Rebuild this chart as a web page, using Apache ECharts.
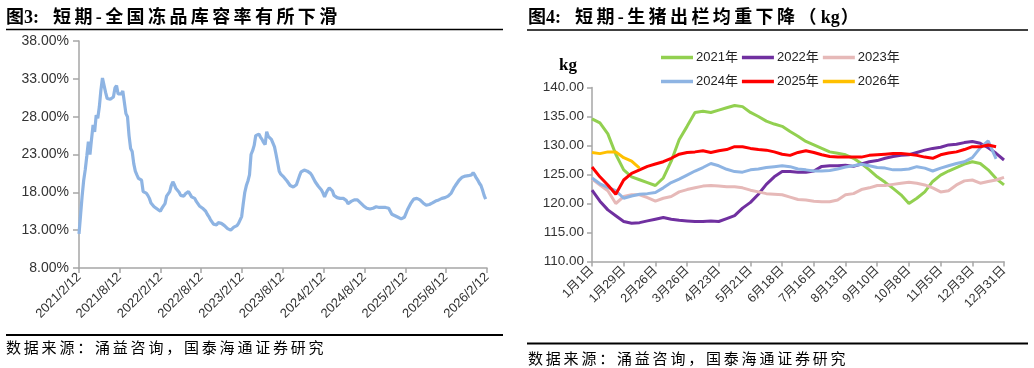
<!DOCTYPE html>
<html>
<head>
<meta charset="utf-8">
<script src="https://cdn.jsdelivr.net/npm/echarts@6/dist/echarts.min.js"></script>
<style>
html,body{margin:0;padding:0;background:#fff;}
#wrap{position:relative;width:1034px;height:368px;overflow:hidden;}
#chart{position:absolute;left:0;top:0;width:1034px;height:368px;}
.t{position:absolute;white-space:nowrap;font-family:"Liberation Serif","Noto Sans CJK SC";font-weight:bold;font-size:18px;line-height:20px;color:#000;}
.t .c{letter-spacing:3.4px;margin-left:14px;}
.t .k{letter-spacing:0;margin:0 1px;}
.s{position:absolute;white-space:nowrap;font-family:"Noto Sans CJK SC";font-size:15px;line-height:16px;letter-spacing:2.8px;color:#000;}
</style>
</head>
<body>
<div id="wrap">
<div id="chart"></div>
<div class="t" style="left:6px;top:7px;">图3:<span class="c">短期-全国冻品库容率有所下滑</span></div>
<div class="t" style="left:528px;top:7px;">图4:<span class="c">短期-生猪出栏均重下降（<span class="k">kg</span>）</span></div>
<div class="s" style="left:6px;top:339px;">数据来源：涌益咨询，国泰海通证券研究</div>
<div class="s" style="left:528px;top:350px;">数据来源：涌益咨询，国泰海通证券研究</div>
</div>
<script>
// ---------- Figure 3: national frozen-goods storage rate (weekly, from 2021/2/12) ----------
var storageStart = [2021, 2, 12];
var storageRate = [
12.5,15.0,17.5,19.6,21.0,22.8,24.7,23.0,25.0,26.9,26.0,28.2,27.8,29.3,31.5,33.1,33.0,31.2,30.4,30.5,
30.3,30.1,30.6,31.8,32.1,31.0,31.0,31.0,31.4,31.4,28.4,28.0,25.5,23.8,23.4,21.8,20.8,20.3,19.85,19.7,
19.6,18.1,18.0,17.9,17.6,17.2,16.6,16.4,16.1,16.0,15.8,15.6,15.5,15.9,16.2,16.5,17.5,17.8,18.1,18.9,
19.4,19.0,18.5,18.5,18.0,17.6,17.4,17.5,17.8,18.0,18.1,17.9,17.4,17.3,17.2,16.8,16.5,16.2,16.0,15.9,
15.8,15.5,15.1,14.8,14.4,14.1,13.8,13.7,13.7,14.0,14.1,13.9,13.8,13.6,13.5,13.2,13.0,13.0,13.1,13.4,
13.6,13.6,13.9,14.1,14.8,16.5,18.0,18.9,19.5,20.3,23.0,23.5,24.2,25.5,25.7,25.7,25.3,25.0,24.6,24.3,
26.0,25.4,25.2,25.0,24.8,24.0,23.0,21.9,20.8,20.4,20.2,20.0,19.85,19.5,19.2,18.9,18.7,18.7,18.7,19.0,
19.6,20.2,20.7,20.9,20.95,20.9,20.8,20.7,20.5,20.2,19.8,19.4,19.1,18.8,18.6,18.3,17.9,17.4,17.9,18.3,
18.6,18.7,18.2,17.6,17.4,17.3,17.3,17.2,17.2,17.2,17.2,16.9,16.5,16.6,16.8,16.9,17.0,17.1,17.0,16.8,
16.6,16.5,16.2,16.0,15.9,15.8,15.8,15.7,15.9,16.0,16.1,16.1,16.0,16.0,16.0,16.0,16.0,15.95,15.9,15.5,
15.1,15.0,14.9,14.8,14.7,14.6,14.5,14.6,14.7,15.2,15.7,16.1,16.5,16.8,17.1,17.2,17.2,17.2,17.0,16.9,
16.6,16.4,16.3,16.3,16.4,16.5,16.6,16.8,16.85,16.9,17.0,17.1,17.2,17.25,17.3,17.4,17.5,17.7,17.9,18.3,
18.7,19.0,19.3,19.6,19.85,20.0,20.1,20.15,20.2,20.2,20.3,20.3,20.6,20.3,19.9,19.6,19.2,18.9,18.3,17.6,
17.1
];
var storageTickDates = ['2021/2/12','2021/8/12','2022/2/12','2022/8/12','2023/2/12','2023/8/12','2024/2/12','2024/8/12','2025/2/12','2025/8/12','2026/2/12'];
var storageTicks = [8,13,18,23,28,33,38];

// ---------- Figure 4: average slaughter weight of hogs (kg), weekly ----------
var weekLabels = ['1月1日','1月8日','1月15日','1月22日','1月29日','2月5日','2月12日','2月19日','2月26日','3月5日','3月12日','3月19日','3月26日','4月2日','4月9日','4月16日','4月23日','4月30日','5月7日','5月14日','5月21日','5月28日','6月4日','6月11日','6月18日','6月25日','7月2日','7月9日','7月16日','7月23日','7月30日','8月6日','8月13日','8月20日','8月27日','9月3日','9月10日','9月17日','9月24日','10月1日','10月8日','10月15日','10月22日','10月29日','11月5日','11月12日','11月19日','11月26日','12月3日','12月10日','12月17日','12月24日','12月31日'];
var w2021 = [134.6,133.9,132.0,128.5,125.8,124.6,124.1,123.6,123.1,124.4,127.3,131.0,133.3,135.7,135.9,135.7,136.1,136.5,136.9,136.7,135.7,135.0,134.2,133.7,133.3,132.4,131.6,
130.7,130.1,129.5,128.9,128.65,128.4,127.8,126.9,125.8,124.6,123.65,122.6,121.5,120.0,120.9,122.0,123.8,124.9,125.6,126.2,126.8,127.2,126.9,125.8,124.3,123.2];
var w2022 = [122.3,120.4,118.9,117.9,116.9,116.6,116.7,117.0,117.3,117.6,117.3,117.1,117.0,116.9,116.9,117.0,116.9,117.4,117.9,119.2,120.2,121.6,123.3,124.6,125.5,125.5,125.4,
125.4,125.6,126.4,126.5,126.5,126.6,126.4,126.8,127.2,127.4,127.8,128.1,128.3,128.4,128.8,129.2,129.5,129.7,130.1,130.2,130.5,130.7,130.4,129.6,128.65,127.5];
var w2023 = [124.2,123.2,122.2,120.0,121.2,121.5,121.5,121.0,120.4,120.9,121.2,122.0,122.4,122.7,123.0,123.1,123.0,122.9,122.9,122.7,122.3,122.0,121.7,121.6,121.5,121.1,120.7,
120.6,120.4,120.3,120.3,120.6,121.5,121.7,122.4,122.7,123.1,123.1,123.3,123.5,123.65,123.5,123.2,122.7,122.0,122.2,123.2,123.9,124.05,123.5,123.8,124.05,124.5];
var w2024 = [124.4,123.4,122.8,122.2,120.9,121.3,121.6,121.7,121.9,122.7,123.6,124.2,124.9,125.6,126.2,126.9,126.5,125.9,125.5,125.4,125.8,125.95,126.2,126.35,126.5,126.35,125.95,
125.8,125.6,125.6,125.7,125.95,126.3,126.5,126.75,126.5,126.2,126.1,125.8,125.8,125.95,126.35,126.1,125.6,126.1,126.5,126.9,127.2,127.9,129.6,130.8,127.7,null];
var w2025 = [126.3,124.6,123.2,121.6,124.05,125.2,125.8,126.4,126.8,127.2,127.8,128.5,128.8,128.9,129.1,128.8,129.1,129.3,129.8,129.8,129.5,129.3,129.2,128.9,128.5,128.3,128.8,
129.1,128.8,128.4,128.1,128.0,128.0,128.0,128.0,128.3,128.4,128.5,128.6,128.6,128.5,128.3,128.0,127.8,128.4,128.7,128.9,129.3,129.8,129.8,130.1,129.8,null];
var w2026 = [128.8,128.6,128.9,128.9,127.9,127.3,126.1];
var weightNames = ['2021年','2022年','2023年','2024年','2025年','2026年'];
var weightColors = ['#92D050','#7030A0','#E6B9B8','#8EB4E3','#FF0000','#FFC000'];

// ---------- build ----------
function utc(y,m,d){return Date.UTC(y,m-1,d);}
var t0 = utc(storageStart[0],storageStart[1],storageStart[2]);
var storageData = storageRate.map(function(v,i){return [t0 + i*7*86400000, v];});
var tickTs = storageTickDates.map(function(s){var p=s.split('/').map(Number);return utc(p[0],p[1],p[2]);});
function fmtDate(v){var d=new Date(v);return d.getUTCFullYear()+'/'+(d.getUTCMonth()+1)+'/'+d.getUTCDate();}

var AX = '#A6A6A6';
var FONT = '"Liberation Sans","Noto Sans CJK SC",sans-serif';
var weightSeries = [w2021,w2022,w2023,w2024,w2025,w2026].map(function(arr,i){
  return {name:weightNames[i],type:'line',xAxisIndex:1,yAxisIndex:1,data:arr,symbol:'none',showSymbol:false,
    lineStyle:{width:3,color:weightColors[i]},itemStyle:{color:weightColors[i]},connectNulls:false};
});

var legendCommon = {left:656,icon:'rect',itemWidth:32,itemHeight:3.5,itemGap:4,
  textStyle:{fontSize:13,color:'#222',fontFamily:FONT,padding:[0,0,0,-2]}};

var chart = echarts.init(document.getElementById('chart'),null,{renderer:'canvas'});
chart.setOption({
  animation:false,
  backgroundColor:'#fff',
  grid:[
    {left:79,top:41,width:408,height:227},
    {left:592,top:87.5,width:412,height:174}
  ],
  legend:[
    Object.assign({data:weightNames.slice(0,3),top:46}, legendCommon),
    Object.assign({data:weightNames.slice(3),top:70}, legendCommon)
  ],
  xAxis:[
    {type:'value',gridIndex:0,min:tickTs[0],max:tickTs[tickTs.length-1],
     axisLine:{lineStyle:{color:AX,width:1.5}},
     axisTick:{show:true,length:5,lineStyle:{color:AX,width:1.5},customValues:tickTs},
     axisLabel:{customValues:tickTs,rotate:45,formatter:fmtDate,fontSize:13,color:'#333',fontFamily:FONT,margin:7,hideOverlap:false},
     splitLine:{show:false}},
    {type:'category',gridIndex:1,data:weekLabels,boundaryGap:false,
     axisLine:{lineStyle:{color:AX,width:1.5}},
     axisTick:{show:true,interval:3,length:5,lineStyle:{color:AX,width:1.5}},
     axisLabel:{interval:3,rotate:45,fontSize:12.5,color:'#333',fontFamily:FONT,margin:7},
     splitLine:{show:false}}
  ],
  yAxis:[
    {type:'value',gridIndex:0,min:8,max:38,
     axisLine:{show:true,lineStyle:{color:AX,width:1.5}},
     axisTick:{show:true,length:6,lineStyle:{color:AX,width:1.5},customValues:storageTicks},
     axisLabel:{customValues:storageTicks,formatter:function(v){return v.toFixed(2)+'%';},fontSize:14,color:'#333',fontFamily:FONT,margin:10},
     splitLine:{show:false}},
    {type:'value',gridIndex:1,min:110,max:140,interval:5,
     axisLine:{show:true,lineStyle:{color:AX,width:1.5}},
     axisTick:{show:true,length:5,lineStyle:{color:AX,width:1.5}},
     axisLabel:{formatter:function(v){return v.toFixed(2);},fontSize:13.5,color:'#333',fontFamily:FONT,margin:8},
     splitLine:{show:false}}
  ],
  graphic:[
    {type:'line',shape:{x1:6,y1:29.5,x2:503,y2:29.5},style:{stroke:'#000',lineWidth:1.5}},
    {type:'line',shape:{x1:6,y1:335,x2:503,y2:335},style:{stroke:'#000',lineWidth:1.8}},
    {type:'line',shape:{x1:527,y1:30,x2:1028,y2:30},style:{stroke:'#000',lineWidth:1.5}},
    {type:'line',shape:{x1:527,y1:343.5,x2:1028,y2:343.5},style:{stroke:'#000',lineWidth:1.8}},
    {type:'text',left:559,top:57,style:{text:'kg',font:'bold 17px "Liberation Serif", serif',fill:'#000'}}
  ],
  series:[
    {name:'全国冻品库容率',type:'line',xAxisIndex:0,yAxisIndex:0,data:storageData,symbol:'none',
     lineStyle:{width:3.2,color:'#8EB4E3'},itemStyle:{color:'#8EB4E3'}}
  ].concat(weightSeries)
});
</script>
</body>
</html>
